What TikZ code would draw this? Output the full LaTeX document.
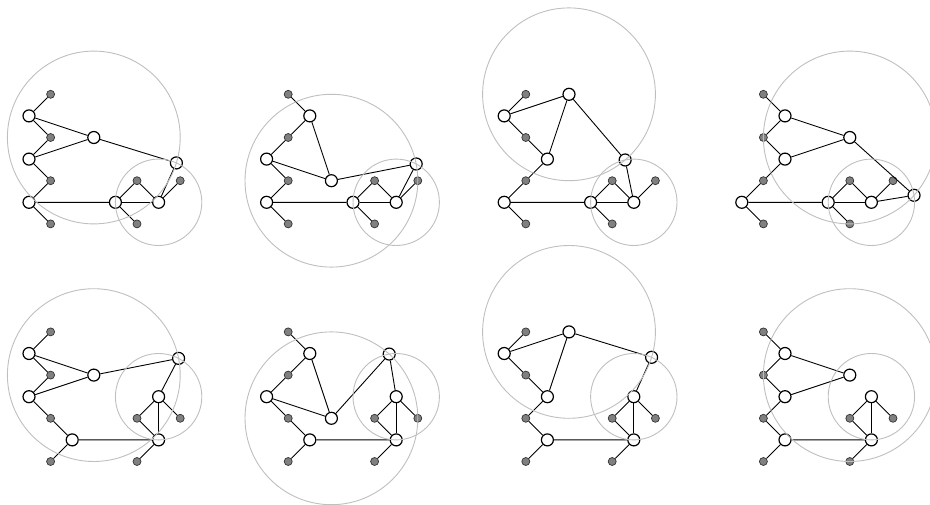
\documentclass[tikz,border=0pt]{standalone}
\usepackage{tikz}

\tikzset{
  vert/.style={circle, draw, fill=white, line width=1.2pt, minimum size=12pt, inner sep=0pt},
  subdiv/.style={circle, draw=black!80, fill=black!50, line width=0.7pt, minimum size=8pt, inner sep=0pt},
  link/.style={line width=0.9pt},
  ring/.style={draw=black!25, line width=0.9pt},
}

% #1 name, #2 shift, #3 A, #4 C, #5 E, #6 B, #7 R, #8 P, #9 D (may be empty)
\newcommand{\graphpanel}[9]{%
  \begin{scope}[shift={(#2)}]
    % subdivision vertices
    \node[subdiv] (#1-g1) at (1,5) {};
    \node[subdiv] (#1-g2) at (1,3) {};
    \node[subdiv] (#1-g3) at (1,1) {};
    \node[subdiv] (#1-g4) at (1,-1) {};
    \node[subdiv] (#1-g5) at (5,1) {};
    \node[subdiv] (#1-g6) at (7,1) {};
    \node[subdiv] (#1-g7) at (5,-1) {};
    % main vertices
    \node[vert] (#1-a) at (#3) {};
    \node[vert] (#1-c) at (#4) {};
    \node[vert] (#1-e) at (#5) {};
    \node[vert] (#1-b) at (#6) {};
    \node[vert] (#1-r) at (#7) {};
    \node[vert] (#1-p) at (#8) {};
    % edges
    \draw[link] (#1-g1) -- (#1-a) -- (#1-g2) -- (#1-c) -- (#1-g3) -- (#1-e) -- (#1-g4);
    \draw[link] (#1-a) -- (#1-b) -- (#1-c);
    \draw[link] (#1-e) -- (#1-r) -- (#1-g5) -- (#1-p) -- (#1-g6);
    \draw[link] (#1-r) -- (#1-p);
    \draw[link] (#1-r) -- (#1-g7);
    % vertex on both circles
    \def\dpos{#9}%
    \ifx\dpos\empty\else
      \node[vert] (#1-d) at (#9) {};
      \draw[link] (#1-b) -- (#1-d) -- (#1-p);
    \fi
    % circles
    \draw[ring] (#1-b.center) circle[radius=4];
    \draw[ring] (#1-p.center) circle[radius=2];
  \end{scope}}

\begin{document}
\begin{tikzpicture}[x=21.6pt, y=21.6pt]
  \useasboundingbox (-1.343,-14.014) rectangle (41.713,9.366);
  \clip (-1.343,-14.014) rectangle (41.713,9.366);

  % Top row
  \graphpanel{p1}{0,0}{0,4}{0,2}{0,0}{3,3}{4,0}{6,0}{6.823,1.823}
  \graphpanel{p2}{11,0}{2,4}{0,2}{0,0}{3,1}{4,0}{6,0}{6.925,1.774}
  \graphpanel{p3}{22,0}{0,4}{2,2}{0,0}{3,5}{4,0}{6,0}{5.599,1.959}
  \graphpanel{p4}{33,0}{2,4}{2,2}{0,0}{5,3}{4,0}{6,0}{7.974,0.325}

  % Bottom row
  \graphpanel{p5}{0,-11}{0,4}{0,2}{2,0}{3,3}{6,0}{6,2}{6.925,3.774}
  \graphpanel{p6}{11,-11}{2,4}{0,2}{2,0}{3,1}{6,0}{6,2}{5.676,3.974}
  \graphpanel{p7}{22,-11}{0,4}{2,2}{2,0}{3,5}{6,0}{6,2}{6.823,3.823}
  \graphpanel{p8}{33,-11}{2,4}{2,2}{2,0}{5,3}{6,0}{6,2}{}

\end{tikzpicture}
\end{document}
